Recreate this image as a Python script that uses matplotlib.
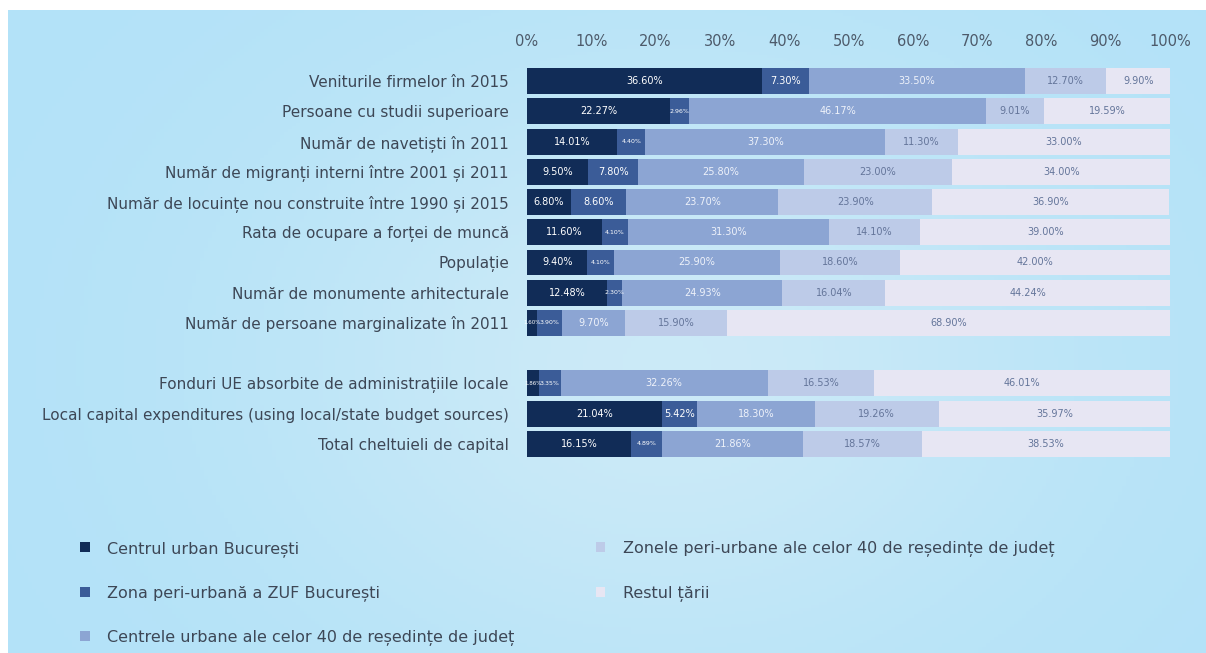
import numpy as np
import matplotlib.pyplot as plt
from matplotlib.patches import Patch

plt.rcParams['font.family'] = ['DejaVu Sans']

categories = [
    "Veniturile firmelor în 2015",
    "Persoane cu studii superioare",
    "Număr de navetiști în 2011",
    "Număr de migranți interni între 2001 și 2011",
    "Număr de locuințe nou construite între 1990 și 2015",
    "Rata de ocupare a forței de muncă",
    "Populație",
    "Număr de monumente arhitecturale",
    "Număr de persoane marginalizate în 2011",
    "",
    "Fonduri UE absorbite de administrațiile locale",
    "Local capital expenditures (using local/state budget sources)",
    "Total cheltuieli de capital",
]

series_names = [
    "Centrul urban București",
    "Zona peri-urbană a ZUF București",
    "Centrele urbane ale celor 40 de reședințe de județ",
    "Zonele peri-urbane ale celor 40 de reședințe de județ",
    "Restul țării",
]

# one list per series, None for the blank spacer row
centru_buc = [36.60, 22.27, 14.01, 9.50, 6.80, 11.60, 9.40, 12.48, 1.60, None, 1.86, 21.04, 16.15]
periurban_buc = [7.30, 2.96, 4.40, 7.80, 8.60, 4.10, 4.10, 2.30, 3.90, None, 3.35, 5.42, 4.89]
centre_resedinte = [33.50, 46.17, 37.30, 25.80, 23.70, 31.30, 25.90, 24.93, 9.70, None, 32.26, 18.30, 21.86]
periurban_resedinte = [12.70, 9.01, 11.30, 23.00, 23.90, 14.10, 18.60, 16.04, 15.90, None, 16.53, 19.26, 18.57]
restul_tarii = [9.90, 19.59, 33.00, 34.00, 36.90, 39.00, 42.00, 44.24, 68.90, None, 46.01, 35.97, 38.53]

xticks = [0, 10, 20, 30, 40, 50, 60, 70, 80, 90, 100]

colors = ["#112c57", "#3b5c98", "#8ca5d3", "#bdcbe8", "#e7e6f3"]
label_colors = ["white", "white", "#eef2fa", "#64759a", "#64759a"]
text_color = "#3d4756"

fig = plt.figure(figsize=(12.06, 6.53), dpi=100)
fig.patch.set_facecolor("white")

# light blue panel behind everything
bg = fig.add_axes([8 / 1206, 0, 1 - 8 / 1206, 1 - 10 / 653], zorder=-10)
gx = np.linspace(0, 1, 300)
gy = np.linspace(0, 1, 200)
X, Y = np.meshgrid(gx, gy)
glow = np.exp(-((X - 0.55) ** 2) / 0.12 - ((Y - 0.55) ** 2) / 0.25)
c_edge = np.array([0.70, 0.886, 0.973])
c_mid = np.array([0.80, 0.918, 0.969])
img = c_edge[None, None, :] * (1 - glow[..., None]) + c_mid[None, None, :] * glow[..., None]
bg.imshow(img, aspect="auto", extent=[0, 1, 0, 1])
bg.axis("off")

ax = fig.add_axes([527 / 1206, 1 - 459 / 653, 643 / 1206, 393 / 653])
ax.set_facecolor("none")

series = [centru_buc, periurban_buc, centre_resedinte, periurban_resedinte, restul_tarii]
y = np.arange(len(categories))
left = np.zeros(len(categories))
for vals, name, col, lc in zip(series, series_names, colors, label_colors):
    v = np.array([np.nan if a is None else a for a in vals])
    bars = ax.barh(y, np.nan_to_num(v), left=left, height=0.86, color=col,
                   edgecolor="none", label=name)
    for rect, val in zip(bars, v):
        if np.isnan(val):
            continue
        if val < 2:
            fs = 4
        elif val < 5:
            fs = 4.5
        else:
            fs = 7
        ax.text(rect.get_x() + rect.get_width() / 2, rect.get_y() + rect.get_height() / 2,
                f"{val:.2f}%", ha="center", va="center", fontsize=fs, color=lc)
    left += np.nan_to_num(v)

ax.set_xlim(0, 100)
ax.set_ylim(len(categories) - 0.5, -0.5)
ax.set_yticks(y)
ax.set_yticklabels(categories, fontsize=11, color=text_color)
ax.xaxis.tick_top()
ax.set_xticks(xticks)
ax.set_xticklabels([f"{t}%" for t in xticks], fontsize=10.5, color="#4d5a6a")
ax.tick_params(axis="both", length=0)
ax.tick_params(axis="x", pad=12)
ax.tick_params(axis="y", pad=13)
for s in ax.spines.values():
    s.set_visible(False)

handles = [Patch(facecolor=c, edgecolor="none") for c in colors]
fig.legend(handles, series_names, loc="upper left", bbox_to_anchor=(0.060, 0.184),
           ncol=2, frameon=False, fontsize=11.5, labelcolor=text_color,
           handlelength=0.6, handleheight=0.6, handletextpad=1.1,
           labelspacing=1.8, columnspacing=5.05, borderpad=0)

fig.savefig("out.png", dpi=100)
